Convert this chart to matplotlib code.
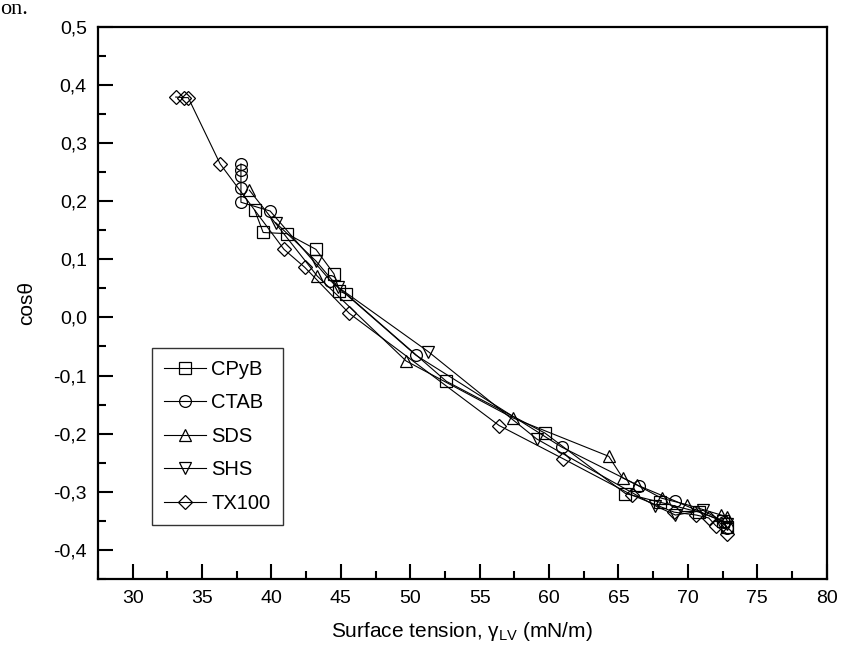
import matplotlib

matplotlib.use("Agg")
import matplotlib.pyplot as plt
from matplotlib.ticker import FuncFormatter, MultipleLocator

plt.rcParams["font.family"] = ["Liberation Sans", "DejaVu Sans"]
plt.rcParams["mathtext.fontset"] = "custom"
plt.rcParams["mathtext.rm"] = "Liberation Sans"

# surface tension (mN/m) vs cos(theta)
cpyb_x = [38.8, 39.4, 41.1, 43.2, 44.5, 44.9, 45.4, 52.6, 59.7, 65.5, 68.0, 70.8, 72.5, 72.8]
cpyb_y = [0.184, 0.146, 0.144, 0.117, 0.075, 0.045, 0.040, -0.110, -0.199, -0.303, -0.318, -0.335, -0.350, -0.360]

ctab_x = [37.8, 37.8, 37.8, 37.8, 37.8, 39.9, 44.25, 50.4, 60.9, 66.5, 69.1, 72.6, 72.8]
ctab_y = [0.264, 0.254, 0.243, 0.223, 0.198, 0.183, 0.063, -0.065, -0.223, -0.290, -0.316, -0.352, -0.362]

sds_x = [38.4, 43.3, 49.7, 57.4, 64.3, 65.3, 66.3, 68.1, 69.9, 72.4, 72.85]
sds_y = [0.219, 0.071, -0.075, -0.173, -0.239, -0.276, -0.288, -0.311, -0.322, -0.340, -0.343]

shs_x = [40.3, 43.2, 44.8, 51.3, 59.1, 67.65, 69.1, 71.1, 72.85]
shs_y = [0.163, 0.097, 0.052, -0.059, -0.209, -0.324, -0.340, -0.332, -0.355]

tx100_x = [33.1, 33.7, 34.0, 36.3, 40.9, 42.4, 45.6, 56.4, 61.0, 66.0, 69.0, 70.6, 71.5, 72.0, 72.8]
tx100_y = [0.379, 0.378, 0.378, 0.264, 0.117, 0.086, 0.007, -0.186, -0.243, -0.306, -0.335, -0.340, -0.345, -0.358, -0.372]

SERIES = [
    ("CPyB", "s", cpyb_x, cpyb_y),
    ("CTAB", "o", ctab_x, ctab_y),
    ("SDS", "^", sds_x, sds_y),
    ("SHS", "v", shs_x, shs_y),
    ("TX100", "D", tx100_x, tx100_y),
]


def comma(value, _pos):
    """Decimal comma tick labels, as in the original figure."""
    return f"{value:.1f}".replace(".", ",").replace("-0,0", "0,0")


fig = plt.figure(figsize=(8.41, 6.59), dpi=100)
ax = fig.add_axes([0.1165, 0.1214, 0.8665, 0.8381])

for name, marker, xs, ys in SERIES:
    size = 7.5 if marker == "D" else 8.5
    ax.plot(xs, ys, marker=marker, color="black", linewidth=0.8, markersize=size,
            markerfacecolor="none", markeredgewidth=0.9, label=name)

ax.set_xlim(27.5, 80)
ax.set_ylim(-0.45, 0.5)
ax.xaxis.set_major_locator(MultipleLocator(5))
ax.xaxis.set_minor_locator(MultipleLocator(2.5))
ax.yaxis.set_major_locator(MultipleLocator(0.1))
ax.yaxis.set_minor_locator(MultipleLocator(0.05))
ax.yaxis.set_major_formatter(FuncFormatter(comma))
ax.tick_params(which="both", direction="in", top=False, right=False, width=1.5, labelsize=14)
ax.tick_params(which="major", length=11, pad=8)
ax.tick_params(which="minor", length=6)
for spine in ax.spines.values():
    spine.set_linewidth(1.6)

ax.set_xlabel(r"Surface tension, γ$_{\rm LV}$ (mN/m)", fontsize=15, labelpad=9)
ax.set_ylabel("cosθ", fontsize=15, labelpad=12)

legend = ax.legend(loc="lower left", bbox_to_anchor=(0.074, 0.098), fontsize=14.5, frameon=True,
                   fancybox=False, edgecolor="black", handlelength=2.1, labelspacing=0.72,
                   handletextpad=0.25, borderpad=0.6, borderaxespad=0.0, numpoints=1)
legend.get_frame().set_linewidth(1.0)

fig.text(0.0, 1.0, "on.", fontsize=16, family="Liberation Serif", va="top", ha="left")

fig.savefig("out.png", dpi=100)
plt.close(fig)
